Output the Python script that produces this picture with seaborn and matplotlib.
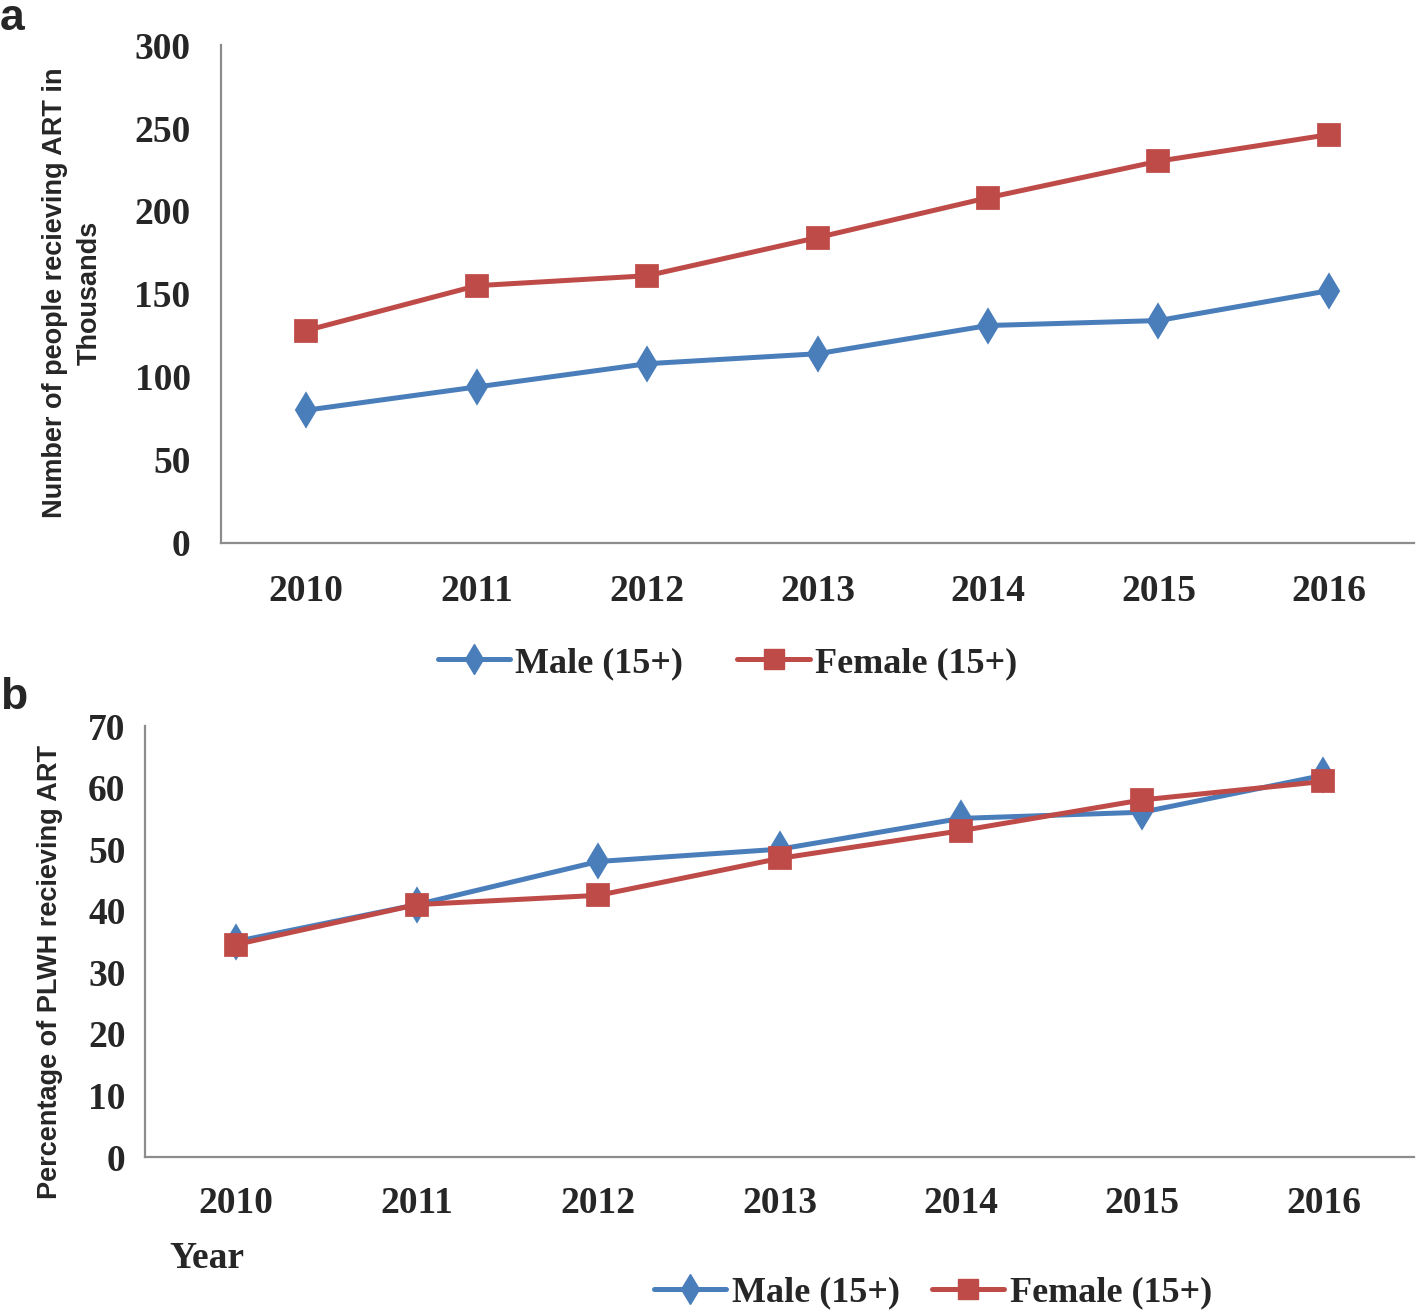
import matplotlib
matplotlib.use("Agg")
import matplotlib.pyplot as plt
import seaborn as sns
import pandas as pd
from matplotlib.lines import Line2D

years = ["2010", "2011", "2012", "2013", "2014", "2015", "2016"]
male_art_thousands = [80, 94, 108, 114, 131, 134, 152]
female_art_thousands = [128, 155, 161, 184, 208, 230, 246]
male_pct = [35, 41, 48, 50, 55, 56, 62]
female_pct = [34.5, 41, 42.5, 48.5, 53, 58, 61]
series_names = ["Male (15+)", "Female (15+)"]

BLUE = "#4A7EBB"
RED = "#BE4B48"
SERIF = ["Liberation Serif", "DejaVu Serif"]
SANS = ["Liberation Sans", "DejaVu Sans"]
DIAMOND_SIZE = 15
SQUARE_SIZE = 15
LW = 3.6

sns.set_theme(style="white")
plt.rcParams["font.family"] = SERIF

def long_df(m, f):
    return pd.DataFrame({
        "year": years * 2,
        "value": list(m) + list(f),
        "series": [series_names[0]] * len(years) + [series_names[1]] * len(years),
    })

fig = plt.figure(figsize=(14.18, 13.16), dpi=100)
ax_a = fig.add_axes([0.1559, 0.5874, 0.8413, 0.3784])
ax_b = fig.add_axes([0.1023, 0.1208, 0.8949, 0.3275])

def draw(ax, df, ylim, step, ypad, xpad):
    sns.pointplot(data=df, x="year", y="value", hue="series", order=years,
                  hue_order=series_names, palette=[BLUE, RED],
                  markers=["d", "s"], linestyles=["-", "-"],
                  markersize=SQUARE_SIZE, linewidth=LW, ax=ax, errorbar=None)
    ax.set_xlim(-0.5, len(years) - 0.5)
    ax.set_ylim(*ylim)
    ax.set_yticks(range(ylim[0], ylim[1] + 1, step))
    ax.set_xlabel("")
    ax.set_ylabel("")
    for s in ["top", "right"]:
        ax.spines[s].set_visible(False)
    for s in ["left", "bottom"]:
        ax.spines[s].set_color("#8c8c8c")
        ax.spines[s].set_linewidth(1.6)
    ax.tick_params(axis="y", length=0, pad=ypad, labelsize=27)
    ax.tick_params(axis="x", length=0, pad=xpad, labelsize=27)
    for lab in ax.get_xticklabels() + ax.get_yticklabels():
        lab.set_fontweight("bold")
        lab.set_family(SERIF)
    for ln in ax.lines:
        if ln.get_marker() == "d":
            ln.set_markersize(DIAMOND_SIZE)
    if ax.get_legend() is not None:
        ax.get_legend().remove()

draw(ax_a, long_df(male_art_thousands, female_art_thousands), (0, 300), 50, 22, 22)
draw(ax_b, long_df(male_pct, female_pct), (0, 70), 10, 14, 21)

handles = [Line2D([], [], color=BLUE, marker="d", markersize=DIAMOND_SIZE, linewidth=LW),
           Line2D([], [], color=RED, marker="s", markersize=SQUARE_SIZE, linewidth=LW)]

fig.legend(handles, series_names, loc="center", bbox_to_anchor=(0.513, 0.496),
           ncol=2, frameon=False, handlelength=2.0, handletextpad=0.15,
           columnspacing=1.5, prop={"family": SERIF, "weight": "bold", "size": 26})
fig.legend(handles, series_names, loc="center", bbox_to_anchor=(0.658, 0.0175),
           ncol=2, frameon=False, handlelength=2.0, handletextpad=0.15,
           columnspacing=0.9, prop={"family": SERIF, "weight": "bold", "size": 26})

fig.text(0.0508, 1 - 293 / 1316, "Number of people recieving ART in\nThousands",
         rotation=90, ha="center", va="center", multialignment="center",
         family=SANS, fontweight="bold", fontsize=19.5, linespacing=1.45)
fig.text(0.035, 1 - 972 / 1316, "Percentage of PLWH recieving ART",
         rotation=90, ha="center", va="center",
         family=SANS, fontweight="bold", fontsize=19.5)
fig.text(0.146, 1 - 1258 / 1316, "Year", ha="center", va="center",
         family=SERIF, fontweight="bold", fontsize=27)

fig.text(0.0, 1 - 18 / 1316, "a", ha="left", va="center",
         family=SANS, fontweight="bold", fontsize=32)
fig.text(0.0, 1 - 698 / 1316, "b", ha="left", va="center",
         family=SANS, fontweight="bold", fontsize=32)

fig.savefig("out.png", dpi=100)
